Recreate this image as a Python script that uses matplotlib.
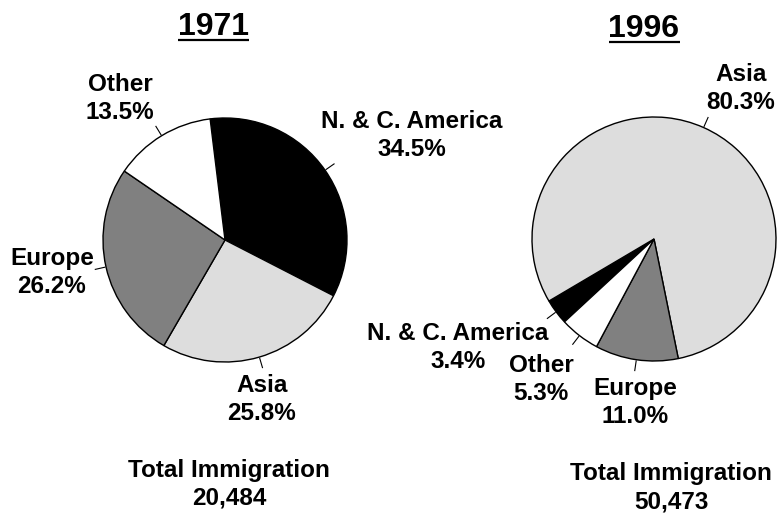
'''Immigration by region of origin, 1971 vs 1996, as two pies.'''
# pylint: disable=invalid-name
import matplotlib
matplotlib.use('Agg')
import matplotlib.pyplot as plt
import numpy as np

W, H = 777, 517

REGIONS = ['N. & C. America', 'Asia', 'Europe', 'Other']
COLORS = ['#000000', '#dddddd', '#808080', '#ffffff']

SHARE_1971 = [34.5, 25.8, 26.2, 13.5]
SHARE_1996 = [3.4, 80.3, 11.0, 5.3]
TOTAL_1971 = 20484
TOTAL_1996 = 50473

# layout, in pixels from the top-left corner
PIE_1971 = dict(center=(225, 240), radius=122, start=97)
PIE_1996 = dict(center=(654, 239), radius=122, start=222.8)
LABELS_1971 = [(412, 133), (262, 397), (52, 270), (120, 96)]
LABELS_1996 = [(458, 345), (741, 86), (635, 400), (541, 377)]
TITLE_1971 = (213.5, 35)
TITLE_1996 = (644, 37)
TOTAL_POS_1971 = (229, 482)
TOTAL_POS_1996 = (671, 485)
LINE_GAP = 28   # pixels between the two lines of a label

FONT = 'Liberation Sans'


def py(y):
    '''Flip a pixel y (from top) into data y (from bottom).'''
    return H - y


def two_lines(ax, x, y, top, bottom):
    '''Two centred bold lines around pixel position (x, y).'''
    for dy, line in [(-LINE_GAP / 2, top), (LINE_GAP / 2, bottom)]:
        ax.text(x, py(y + dy), line, ha='center', va='center_baseline',
                fontsize=17.5, fontweight='bold', family=FONT)


def draw_pie(ax, shares, geo, label_pos):
    '''Draw one pie with its labels and short leader lines.'''
    cx, cy = geo['center']
    r = geo['radius']
    wedges, _ = ax.pie(shares, colors=COLORS, startangle=geo['start'],
                       counterclock=False, center=(cx, py(cy)), radius=r,
                       wedgeprops=dict(edgecolor='black', linewidth=1.0))
    for wedge, name, share, (lx, ly) in zip(wedges, REGIONS, shares,
                                             label_pos):
        mid = np.deg2rad((wedge.theta1 + wedge.theta2) / 2)
        ax.plot([cx + 1.01 * r * np.cos(mid), cx + 1.09 * r * np.cos(mid)],
                [py(cy) + 1.01 * r * np.sin(mid),
                 py(cy) + 1.09 * r * np.sin(mid)],
                color='black', linewidth=0.8)
        two_lines(ax, lx, ly, name, f'{share:.1f}%')


def draw_title(fig, ax, text, pos):
    '''Bold title with an underline beneath it.'''
    t = ax.text(pos[0], py(pos[1]), text, ha='center', va='baseline',
                fontsize=23, fontweight='bold', family=FONT)
    fig.canvas.draw()
    bb = t.get_window_extent().transformed(ax.transData.inverted())
    ax.plot([bb.x0, bb.x1], [py(pos[1] + 5)] * 2, color='black',
            linewidth=1.6, solid_capstyle='butt')


def main():
    '''Main.'''
    fig = plt.figure(figsize=(W / 100, H / 100), dpi=100)
    ax = fig.add_axes([0, 0, 1, 1])

    draw_pie(ax, SHARE_1971, PIE_1971, LABELS_1971)
    draw_pie(ax, SHARE_1996, PIE_1996, LABELS_1996)

    ax.set_xlim(0, W)
    ax.set_ylim(0, H)
    ax.set_aspect('equal')
    ax.axis('off')

    for total, (tx, ty) in [(TOTAL_1971, TOTAL_POS_1971),
                            (TOTAL_1996, TOTAL_POS_1996)]:
        two_lines(ax, tx, ty, 'Total Immigration', f'{total:,}')

    draw_title(fig, ax, '1971', TITLE_1971)
    draw_title(fig, ax, '1996', TITLE_1996)

    fig.savefig('out.png', dpi=100, facecolor='white')


if __name__ == '__main__':
    main()
